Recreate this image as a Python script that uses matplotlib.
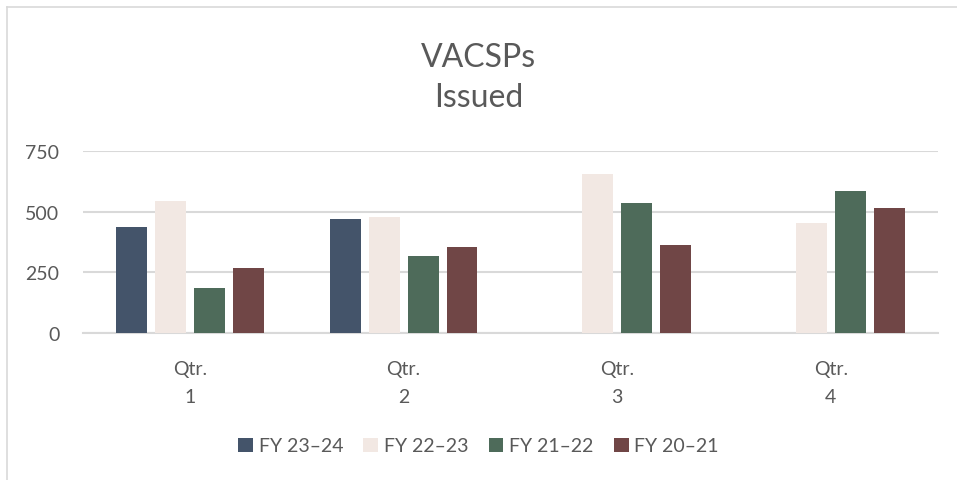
import numpy as np
import matplotlib
matplotlib.use("Agg")
import matplotlib.pyplot as plt
from matplotlib.lines import Line2D

plt.rcParams['font.family'] = ['Lato', 'DejaVu Sans']

quarters = ["Qtr.\n1", "Qtr.\n2", "Qtr.\n3", "Qtr.\n4"]
series_names = ["FY 23\u201324", "FY 22\u201323", "FY 21\u201322", "FY 20\u201321"]
fy_23_24 = [437, 469, np.nan, np.nan]
fy_22_23 = [543, 477, 654, 453]
fy_21_22 = [186, 317, 535, 584]
fy_20_21 = [268, 354, 363, 514]
colors = ["#44546A", "#F2E8E3", "#4E6B5A", "#704646"]

text_col = "#595959"
grid_col = "#D9D9D9"

fig = plt.figure(figsize=(9.57, 4.81), dpi=100)
ax = fig.add_axes([83 / 957, 1 - 334.3 / 481, (937.7 - 83) / 957, (334.3 - 151.7) / 481])

x = np.arange(len(quarters))
pitch = 0.1825
width = 0.145
all_series = [fy_23_24, fy_22_23, fy_21_22, fy_20_21]
for i, (vals, name, c) in enumerate(zip(all_series, series_names, colors)):
    ax.bar(x + (i - 1.5) * pitch, vals, width, color=c, label=name, zorder=3)

ax.set_xlim(-0.5, 3.5)
ax.set_ylim(0, 750)
ax.set_yticks([0, 250, 500, 750])
ax.set_xticks(x)
ax.set_xticklabels(quarters, linespacing=1.8)
ax.yaxis.grid(True, color=grid_col, linewidth=1.5, zorder=0)
ax.set_axisbelow(True)
for s in ["top", "right", "left"]:
    ax.spines[s].set_visible(False)
ax.spines["bottom"].set_color(grid_col)
ax.spines["bottom"].set_linewidth(1.5)
ax.tick_params(axis="both", length=0, labelsize=14, colors=text_col)
ax.tick_params(axis="y", pad=17)
ax.tick_params(axis="x", pad=19)

fig.text(0.5, 1 - 58 / 481, "VACSPs", ha="center", va="center", fontsize=23, color=text_col)
fig.text(0.5, 1 - 98 / 481, "Issued", ha="center", va="center", fontsize=23, color=text_col)

fig.legend(loc="center", bbox_to_anchor=(0.5, 1 - 447 / 481), ncol=4, frameon=False,
           fontsize=14, handlelength=0.75, handleheight=0.75, handletextpad=0.3,
           columnspacing=1.05, labelcolor=text_col)

# chart border (top and left edges show in the crop)
fig.add_artist(Line2D([6.5 / 957, 1], [1 - 7.5 / 481, 1 - 7.5 / 481], color=grid_col, lw=1.2,
                      transform=fig.transFigure))
fig.add_artist(Line2D([6.5 / 957, 6.5 / 957], [0, 1 - 7.5 / 481], color=grid_col, lw=1.2,
                      transform=fig.transFigure))

fig.savefig("out.png", dpi=100, facecolor="white")
